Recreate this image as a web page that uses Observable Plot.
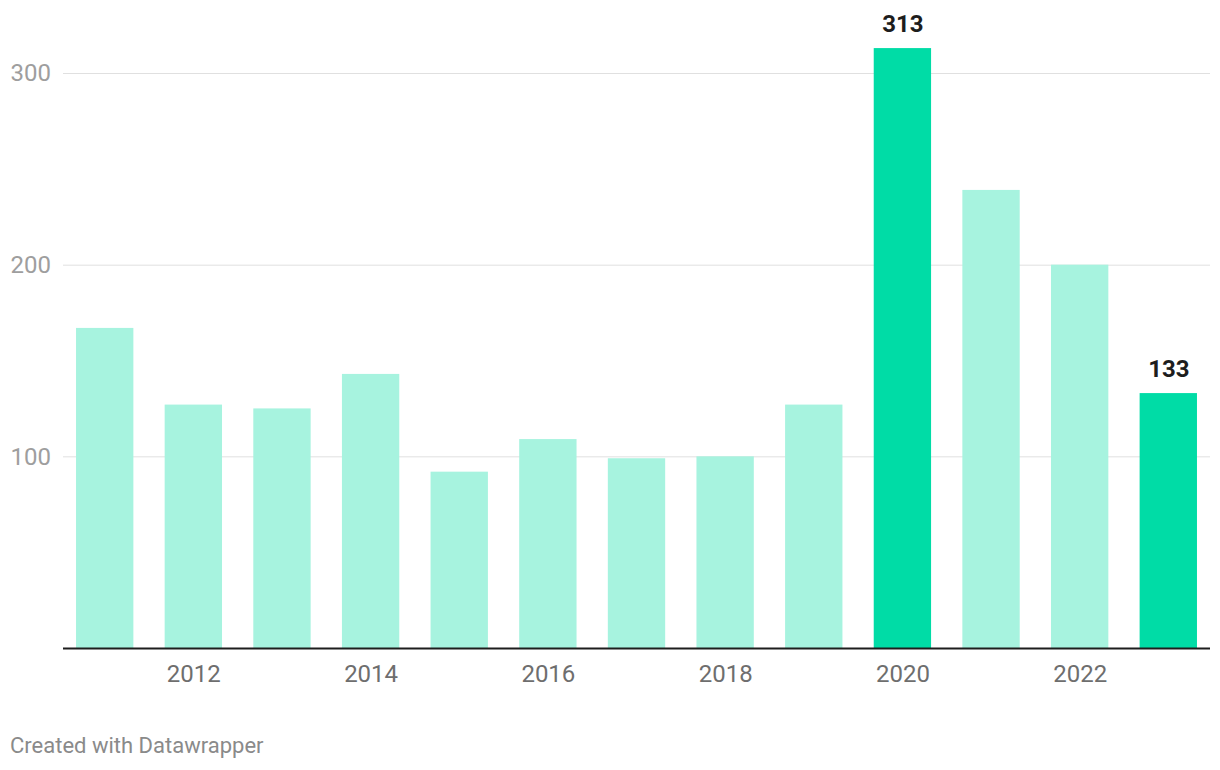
<!DOCTYPE html>
<html>
<head>
<meta charset="utf-8">
<script src="https://cdn.jsdelivr.net/npm/d3@7"></script>
<script src="https://cdn.jsdelivr.net/npm/@observablehq/plot@0.6"></script>
<style>
  html, body { margin: 0; padding: 0; background: #ffffff; }
  body { width: 1220px; font-family: Roboto, "Noto Sans", sans-serif; }
  #chart svg { display: block; overflow: visible; }
  #caption { margin-top: 33px; margin-left: 10px; font-size: 22px; line-height: 26px; color: #8a8a8a; font-family: Roboto, sans-serif; }
</style>
</head>
<body>
<div id="chart"></div>
<div id="caption">Created with Datawrapper</div>
<script>
const years = [2011, 2012, 2013, 2014, 2015, 2016, 2017, 2018, 2019, 2020, 2021, 2022, 2023];
const values = [167, 127, 125, 143, 92, 109, 99, 100, 127, 313, 239, 200, 133];
const highlighted = [2020, 2023];
const xTickYears = [2012, 2014, 2016, 2018, 2020, 2022];
const yTicks = [100, 200, 300];

const data = years.map((year, i) => ({year, value: values[i], hi: highlighted.includes(year)}));

const chart = Plot.plot({
  width: 1220,
  height: 700,
  marginTop: 73,
  marginBottom: 52,
  marginLeft: 63,
  marginRight: 10,
  style: {fontFamily: "Roboto, sans-serif", background: "#ffffff"},
  x: {type: "band", domain: years, paddingInner: 0.353, paddingOuter: 0.147, round: false, axis: null, label: null},
  y: {domain: [0, 300], axis: null, label: null},
  marks: [
    Plot.gridY(yTicks, {stroke: "#e0e0e0", strokeOpacity: 1, strokeWidth: 1}),
    Plot.barY(data, {x: "year", y: "value", fill: d => d.hi ? "#00dca6" : "#a7f3df"}),
    Plot.ruleY([0], {stroke: "#1d1d1d", strokeWidth: 2}),
    Plot.axisY(yTicks, {tickSize: 0, tickPadding: 0, textAnchor: "start", dx: -53, fontSize: 24, fill: "#9e9e9e", label: null, tickFormat: d => String(d)}),
    Plot.axisX(xTickYears, {tickSize: 0, tickPadding: 16, fontSize: 24, fill: "#6e6e6e", label: null, tickFormat: d => String(d)}),
    Plot.text(data.filter(d => d.hi), {x: "year", y: "value", text: d => String(d.value), dy: -24, fontSize: 24, fontWeight: "bold", fill: "#1d1d1d"})
  ]
});
document.getElementById("chart").appendChild(chart);
</script>
</body>
</html>
